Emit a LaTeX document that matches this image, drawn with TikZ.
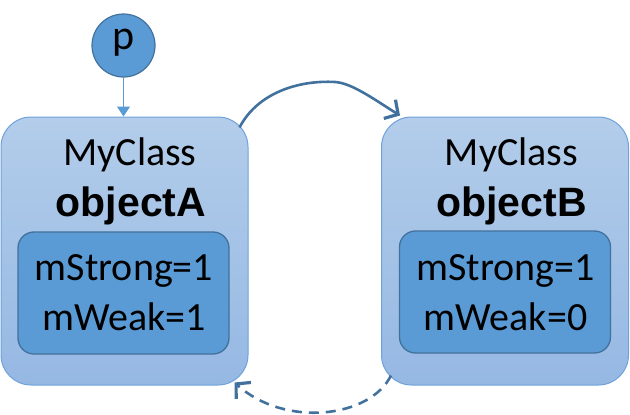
\documentclass[tikz,border=0pt]{standalone}
\usepackage{fontspec}
\setmainfont{Carlito}
\newfontfamily\boldarial{Liberation Sans}[BoldFont={Liberation Sans Bold}]
\usetikzlibrary{arrows.meta}
\definecolor{outtop}{HTML}{B3CDEA}
\definecolor{outbot}{HTML}{95B8E3}
\definecolor{outline}{HTML}{6FA2DA}
\definecolor{innfill}{HTML}{5B9BD5}
\definecolor{innline}{HTML}{41719C}
\definecolor{arrowc}{HTML}{41719C}
\begin{document}
\begin{tikzpicture}[x=1pt,y=-1pt,
  outerbox/.style={draw=outline, line width=1pt, rounded corners=30pt, top color=outtop, bottom color=outbot, inner sep=0pt, minimum width=247pt, minimum height=268pt},
  innerbox/.style={draw=innline, fill=innfill, line width=1.3pt, rounded corners=16pt, inner sep=0pt, minimum width=211pt, minimum height=122pt},
  txt/.style={font=\fontsize{40}{48}\selectfont, anchor=base, inner sep=0pt},
  btxt/.style={font=\boldarial\bfseries\fontsize{41}{48}\selectfont, anchor=base, inner sep=0pt},
  ptr/.style={draw=innline, fill=innfill, line width=1.2pt, circle, minimum size=63pt, inner sep=0pt},
  link/.style={draw=arrowc, line width=2.6pt, -{Straight Barb[length=10pt,width=22pt,line width=3.2pt]}},
  weaklink/.style={draw=arrowc, line width=2.6pt, dash pattern=on 10pt off 7pt, -{Straight Barb[length=10pt,width=22pt,line width=3.2pt]}}
]
\useasboundingbox (0,0) rectangle (630,415);
% object A
\node[outerbox] (A) at (124.5,251) {};
\node[innerbox] (Ai) at (123.5,293) {};
\node[txt] (Acls) at (130,165) {MyClass};
\node[btxt] (Aname) at (131,216) {objectA};
\node[txt] (As) at (124,280) {mStrong=1};
\node[txt] (Aw) at (124,330) {mWeak=1};
% object B
\node[outerbox] (B) at (505,251) {};
\node[innerbox] (Bi) at (505,292) {};
\node[txt] (Bcls) at (511.5,165) {MyClass};
\node[btxt] (Bname) at (511.5,216) {objectB};
\node[txt] (Bs) at (505.5,280) {mStrong=1};
\node[txt] (Bw) at (505.5,330) {mWeak=0};
% pointer p
\node[ptr] (p) at (123.5,45.5) {};
\node[txt, anchor=center, font=\fontsize{42}{48}\selectfont] (plabel) at (123.5,43) {p};
\draw[draw=innfill, line width=1pt, -{Triangle[length=10pt,width=13pt]}, fill=innfill] (p.south) -- (p.south |- A.north);
% strong link
\draw[link] ([xshift=-9pt,yshift=-11pt]A.north east) .. controls (258,92) and (300,80) .. (335,82) .. controls (352,83) and (375,100) .. ([xshift=19pt,yshift=1pt]B.north west);
% weak link
\draw[weaklink] ([xshift=10pt,yshift=10pt]B.south west) .. controls (370,418) and (285,428) .. ([xshift=-14pt,yshift=3pt]A.south east);
\end{tikzpicture}
\end{document}
